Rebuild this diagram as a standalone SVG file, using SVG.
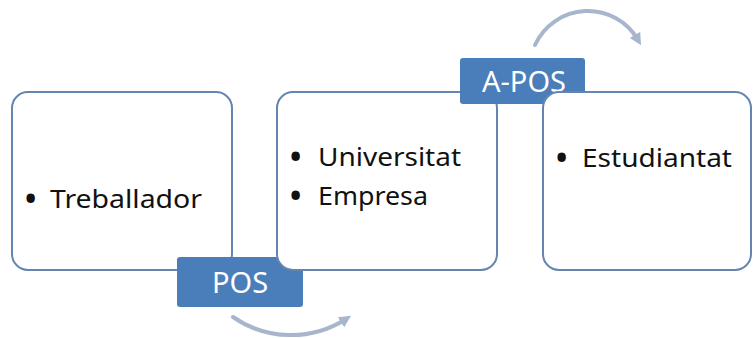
<svg xmlns="http://www.w3.org/2000/svg" width="753" height="338" viewBox="0 0 753 338">
<defs>
<style>
.box{fill:#ffffff;stroke:#6485b2;stroke-width:2}
.lbl{fill:#4a7ebb}
.lt{fill:#ffffff;font-family:"Noto Sans","Open Sans",sans-serif;font-size:29px}
.bt{fill:#111111;font-family:"Noto Sans","Open Sans",sans-serif;font-size:26px}
.bu{fill:#111111;font-family:"Noto Sans","Open Sans",sans-serif;font-size:30px;font-weight:bold}
.arc{fill:none;stroke:#a7b6cc;stroke-width:4;stroke-linecap:round}
</style>
<marker id="ah" viewBox="0 0 10 10" refX="5" refY="5" markerWidth="3" markerHeight="3" orient="auto">
<path d="M0,0 L10,5 L0,10 z" fill="#a7b6cc"/>
</marker>
</defs>
<g id="connectors">
<path class="arc" d="M233,317 A102,102 0 0 0 346,319" marker-end="url(#ah)"/>
<path class="arc" d="M535,45 A58,58 0 0 1 638,40" marker-end="url(#ah)"/>
</g>
<g id="node-treballador">
<rect class="box" x="12" y="92" width="220" height="178" rx="16"/>
<text class="bu" x="25" y="209">•</text>
<text class="bt" x="50" y="208" textLength="152" lengthAdjust="spacingAndGlyphs">Treballador</text>
</g>
<g id="label-pos">
<rect class="lbl" x="177" y="257" width="126" height="50" rx="3"/>
<text class="lt" x="240" y="293" text-anchor="middle">POS</text>
</g>
<g id="node-universitat">
<rect class="box" x="277" y="92" width="220" height="178" rx="16"/>
<text class="bu" x="290" y="167">•</text>
<text class="bt" x="318" y="166" textLength="143" lengthAdjust="spacingAndGlyphs">Universitat</text>
<text class="bu" x="290" y="206">•</text>
<text class="bt" x="318" y="205" textLength="110" lengthAdjust="spacingAndGlyphs">Empresa</text>
</g>
<g id="label-apos">
<rect class="lbl" x="460" y="58" width="125" height="46" rx="3"/>
<text class="lt" x="524" y="92" text-anchor="middle">A-POS</text>
</g>
<g id="node-estudiantat">
<rect class="box" x="543" y="92" width="208" height="178" rx="16"/>
<text class="bu" x="556" y="168">•</text>
<text class="bt" x="582" y="167" textLength="150" lengthAdjust="spacingAndGlyphs">Estudiantat</text>
</g>
</svg>
